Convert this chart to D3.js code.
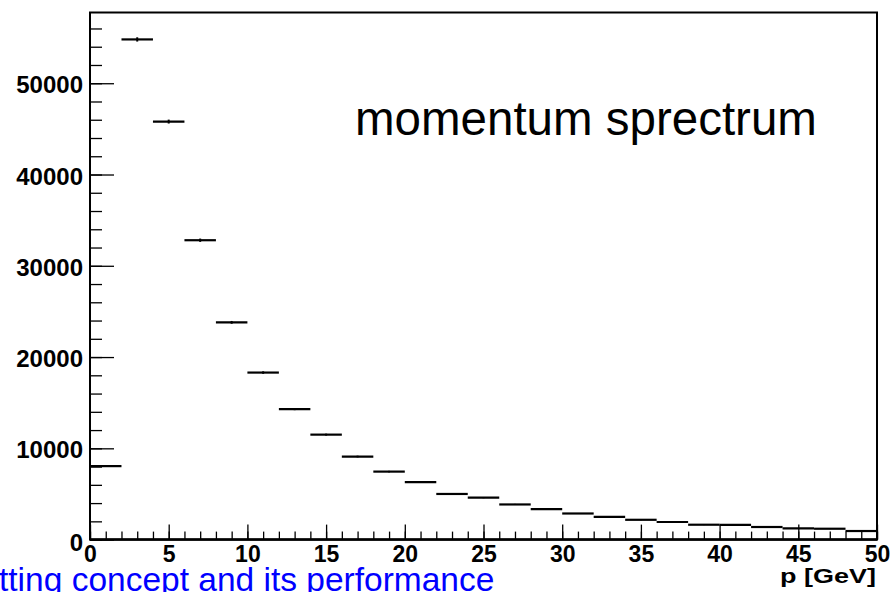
<!DOCTYPE html>
<html>
<head>
<meta charset="utf-8">
<script src="https://cdn.jsdelivr.net/npm/d3@7"></script>
<style>
  html, body { margin: 0; padding: 0; background: #fff; }
  svg { display: block; }
</style>
</head>
<body>
<svg id="chart" width="893" height="592"></svg>
<script>
// Histogram of track momentum: 25 bins of 2 GeV from 0 to 50 GeV
const binEdgesLow = [0, 2, 4, 6, 8, 10, 12, 14, 16, 18, 20, 22, 24, 26, 28, 30, 32, 34, 36, 38, 40, 42, 44, 46, 48];
const binWidth = 2;
const counts = [8050, 54800, 45800, 32800, 23800, 18300, 14300, 11500, 9100, 7450, 6300, 5000, 4600, 3850,
                3330, 2860, 2500, 2170, 1930, 1630, 1620, 1380, 1240, 1190, 940];
const xMajorTicks = [0, 5, 10, 15, 20, 25, 30, 35, 40, 45, 50];
const xMinorTicks = d3.range(0, 51, 1);
const yMajorTicks = [0, 10000, 20000, 30000, 40000, 50000];
const yMinorTicks = d3.range(0, 57000, 2000);
const xDomain = [0, 50];
const yDomain = [0, 57750];
const titleText = "momentum sprectrum";
const xTitle = "p [GeV]";
const footerText = "tting concept and its performance";

const svg = d3.select("#chart");
const frameLeft = 90, frameRight = 877, frameTop = 12.5, frameBottom = 539.6;

const x = d3.scaleLinear().domain(xDomain).range([frameLeft, frameRight]);
const y = d3.scaleLinear().domain(yDomain).range([frameBottom, frameTop]);

// frame
svg.append("rect")
  .attr("x", frameLeft).attr("y", frameTop)
  .attr("width", frameRight - frameLeft).attr("height", frameBottom - frameTop)
  .attr("fill", "none").attr("stroke", "#000").attr("stroke-width", 2);

// x axis: minor then major ticks, pointing into the frame
const xMinor = svg.append("g").attr("transform", `translate(0,${frameBottom})`)
  .call(d3.axisBottom(x).tickValues(xMinorTicks).tickSize(-8).tickFormat(""));
const xMajor = svg.append("g").attr("transform", `translate(0,${frameBottom})`)
  .call(d3.axisBottom(x).tickValues(xMajorTicks).tickSize(-15).tickPadding(6).tickFormat(d3.format("d")));
[xMinor, xMajor].forEach(g => {
  g.select(".domain").remove();
  g.selectAll(".tick line").attr("stroke", "#000").attr("stroke-width", 1.3);
});
xMajor.selectAll(".tick text")
  .attr("fill", "#000")
  .style("font-family", "'Liberation Sans', Arial, sans-serif")
  .style("font-weight", "bold")
  .style("font-size", "23px");

// y axis
const yMinor = svg.append("g").attr("transform", `translate(${frameLeft},0)`)
  .call(d3.axisLeft(y).tickValues(yMinorTicks).tickSize(-12).tickFormat(""));
const yMajor = svg.append("g").attr("transform", `translate(${frameLeft},0)`)
  .call(d3.axisLeft(y).tickValues(yMajorTicks).tickSize(-24).tickPadding(7).tickFormat(d3.format("d")));
[yMinor, yMajor].forEach(g => {
  g.select(".domain").remove();
  g.selectAll(".tick line").attr("stroke", "#000").attr("stroke-width", 1.3);
});
yMajor.selectAll(".tick text")
  .attr("fill", "#000")
  .attr("dy", d => d === 0 ? "0.45em" : "0.4em")
  .style("font-family", "'Liberation Sans', Arial, sans-serif")
  .style("font-weight", "bold")
  .style("font-size", "24px");

// bottom axis line is drawn a bit heavier
svg.append("line")
  .attr("x1", frameLeft).attr("x2", frameRight).attr("y1", frameBottom).attr("y2", frameBottom)
  .attr("stroke", "#000").attr("stroke-width", 2.5);

// histogram bins with Poisson error bars
const bins = binEdgesLow.map((lo, i) => ({ lo, hi: lo + binWidth, v: counts[i] }));
const hist = svg.append("g");
hist.selectAll("line.bin").data(bins).join("line")
  .attr("class", "bin")
  .attr("x1", d => x(d.lo)).attr("x2", d => x(d.hi))
  .attr("y1", d => y(d.v)).attr("y2", d => y(d.v))
  .attr("stroke", "#000").attr("stroke-width", 2.2);
hist.selectAll("line.err").data(bins).join("line")
  .attr("class", "err")
  .attr("x1", d => x(d.lo + binWidth / 2)).attr("x2", d => x(d.lo + binWidth / 2))
  .attr("y1", d => y(d.v - Math.sqrt(d.v))).attr("y2", d => y(d.v + Math.sqrt(d.v)))
  .attr("stroke", "#000").attr("stroke-width", 2);

// title inside the frame
svg.append("text")
  .attr("x", 355).attr("y", 135)
  .style("font-family", "'Liberation Sans', Arial, sans-serif")
  .style("font-size", "47.5px")
  .attr("fill", "#000")
  .text(titleText);

// x axis title
svg.append("text")
  .attr("x", 780).attr("y", 583)
  .attr("textLength", 96).attr("lengthAdjust", "spacingAndGlyphs")
  .style("font-family", "'Liberation Sans', Arial, sans-serif")
  .style("font-weight", "bold")
  .style("font-size", "21px")
  .attr("fill", "#000")
  .text(xTitle);

// footer line of the slide, running off the bottom edge
svg.append("text")
  .attr("x", -1).attr("y", 591)
  .style("font-family", "'Liberation Sans', Arial, sans-serif")
  .style("font-size", "33.5px")
  .attr("fill", "#0000ff")
  .text(footerText);
</script>
</body>
</html>
